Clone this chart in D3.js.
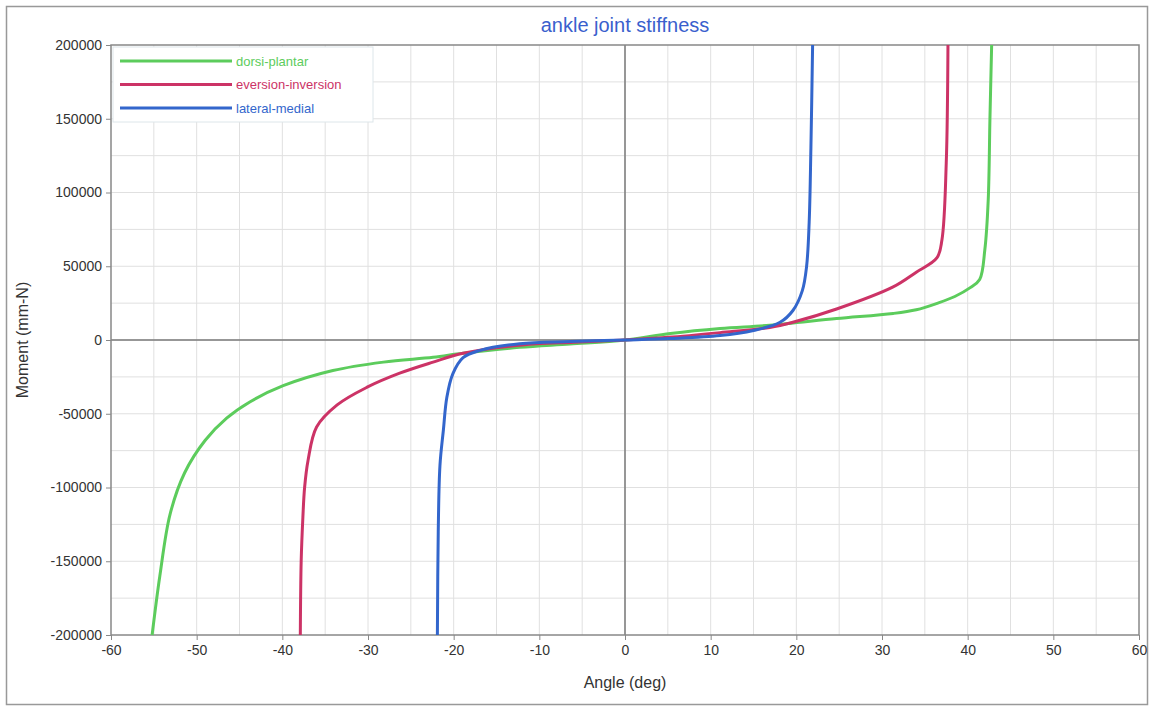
<!DOCTYPE html>
<html>
<head>
<meta charset="utf-8">
<script src="https://cdn.jsdelivr.net/npm/d3@7"></script>
<style>
  body { margin: 0; background: #fff; }
  svg { font-family: "Liberation Sans", Arial, sans-serif; }
</style>
</head>
<body>
<script>
// angle (deg) / moment (mm-N)
var dorsiAngle  = [ -55.2, -54.3, -53.1, -51.4, -49, -46.5, -43.8, -39.9, -34.1, -28.2, -22.4, -18.9, -12.3, -6.4, 0, 5.3, 11.1, 16.9, 24.7, 31.3, 34, 36.5, 38.5, 40.3, 41.4, 42, 42.4, 42.6, 42.8 ];
var dorsiMoment = [ -200000, -160000, -118000, -90000, -68000, -53000, -42000, -31000, -20700, -15000, -11700, -9000, -5000, -2700, 0, 4400, 7800, 10000, 14500, 18000, 20500, 25000, 29500, 35500, 41000, 61000, 95000, 150000, 200000 ];

var everAngle  = [ -37.9, -37.8, -37.6, -37.4, -37.0, -36, -33.6, -30.1, -26.3, -22.4, -18.9, -12.3, -6, 0, 5, 11.1, 16.9, 19.6, 24.7, 31.3, 34, 36.4, 37, 37.5, 37.7 ];
var everMoment = [ -200000, -150000, -120000, -100000, -81700, -59000, -44000, -32000, -22500, -15000, -9000, -3500, -1500, 0, 1800, 5000, 8500, 12000, 21000, 36000, 46000, 55600, 68000, 120000, 200000 ];

var latAngle  = [ -21.9, -21.8, -21.6, -21.2, -20.8, -20.1, -18.9, -16.9, -12.3, -6.4, 0, 5.3, 11.1, 15, 18.1, 19.6, 20.7, 21.2, 21.5, 21.7, 21.9 ];
var latMoment = [ -200000, -130000, -85000, -61000, -39000, -23000, -12000, -7000, -2500, -1000, 0, 1000, 3000, 6500, 12000, 20000, 33500, 50000, 80000, 130000, 200000 ];

var seriesNames  = [ 'dorsi-plantar', 'eversion-inversion', 'lateral-medial' ];
var seriesColors = [ '#5ccc5c', '#cc3366', '#3366cc' ];

var xTicks = d3.range( -60, 61, 10 );
var yTicks = d3.range( -200000, 200001, 50000 );

var W = 1153, H = 706;
var pLeft = 111, pRight = 1139, pTop = 45, pBottom = 635;

var svg = d3.select( 'body' ).append( 'svg' )
  .attr( 'width', W )
  .attr( 'height', H );

// outer frame
svg.append( 'rect' )
  .attr( 'x', 6.5 ).attr( 'y', 6.5 )
  .attr( 'width', 1141 ).attr( 'height', 698 )
  .attr( 'fill', 'none' ).attr( 'stroke', '#999' ).attr( 'stroke-width', 1.5 );

var x = d3.scaleLinear().domain( [ -60, 60 ] ).range( [ pLeft, pRight ] );
var y = d3.scaleLinear().domain( [ -200000, 200000 ] ).range( [ pBottom, pTop ] );

// grid, every 5 deg and every 25000
svg.selectAll( 'line.vgrid' )
  .data( d3.range( -55, 60, 5 ) )
  .enter().append( 'line' )
  .attr( 'class', 'vgrid' )
  .attr( 'x1', function ( d ) { return x( d ); } )
  .attr( 'x2', function ( d ) { return x( d ); } )
  .attr( 'y1', pTop ).attr( 'y2', pBottom )
  .attr( 'stroke', '#e0e0e0' ).attr( 'stroke-width', 1 );

svg.selectAll( 'line.hgrid' )
  .data( d3.range( -175000, 200000, 25000 ) )
  .enter().append( 'line' )
  .attr( 'class', 'hgrid' )
  .attr( 'y1', function ( d ) { return y( d ); } )
  .attr( 'y2', function ( d ) { return y( d ); } )
  .attr( 'x1', pLeft ).attr( 'x2', pRight )
  .attr( 'stroke', '#e0e0e0' ).attr( 'stroke-width', 1 );

// zero lines
svg.append( 'line' )
  .attr( 'x1', x( 0 ) ).attr( 'x2', x( 0 ) )
  .attr( 'y1', pTop ).attr( 'y2', pBottom )
  .attr( 'stroke', '#7a7a7a' ).attr( 'stroke-width', 1.5 );
svg.append( 'line' )
  .attr( 'x1', pLeft ).attr( 'x2', pRight )
  .attr( 'y1', y( 0 ) ).attr( 'y2', y( 0 ) )
  .attr( 'stroke', '#7a7a7a' ).attr( 'stroke-width', 1.5 );

// plot border
svg.append( 'rect' )
  .attr( 'x', pLeft ).attr( 'y', pTop )
  .attr( 'width', pRight - pLeft ).attr( 'height', pBottom - pTop )
  .attr( 'fill', 'none' ).attr( 'stroke', '#888' ).attr( 'stroke-width', 1.5 );

// axes (plain hyphen minus like the original)
var fmt = function ( d ) { return String( d ); };
var xAxis = svg.append( 'g' )
  .attr( 'transform', 'translate(0,' + pBottom + ')' )
  .call( d3.axisBottom( x ).tickValues( xTicks ).tickSize( 5 ).tickPadding( 5 ).tickFormat( fmt ) );
var yAxis = svg.append( 'g' )
  .attr( 'transform', 'translate(' + pLeft + ',0)' )
  .call( d3.axisLeft( y ).tickValues( yTicks ).tickSize( 5 ).tickPadding( 4 ).tickFormat( fmt ) );

[ xAxis, yAxis ].forEach( function ( g ) {
  g.select( '.domain' ).remove();
  g.selectAll( 'line' ).attr( 'stroke', '#888' );
  g.selectAll( 'text' ).attr( 'fill', '#333' ).attr( 'font-size', 14 )
    .attr( 'font-family', '"Liberation Sans", Arial, sans-serif' );
} );

// curves
var allData = [
  d3.zip( dorsiAngle, dorsiMoment ),
  d3.zip( everAngle, everMoment ),
  d3.zip( latAngle, latMoment )
];

var line = d3.line()
  .x( function ( d ) { return x( d[ 0 ] ); } )
  .y( function ( d ) { return y( d[ 1 ] ); } )
  .curve( d3.curveCatmullRom.alpha( 0.5 ) );

svg.selectAll( 'path.series' )
  .data( allData )
  .enter().append( 'path' )
  .attr( 'class', 'series' )
  .attr( 'd', line )
  .attr( 'fill', 'none' )
  .attr( 'stroke', function ( d, i ) { return seriesColors[ i ]; } )
  .attr( 'stroke-width', 3 )
  .attr( 'stroke-linejoin', 'round' );

// legend
var legend = svg.append( 'g' );
legend.append( 'rect' )
  .attr( 'x', 113 ).attr( 'y', 47 )
  .attr( 'width', 260 ).attr( 'height', 75 )
  .attr( 'fill', '#fff' ).attr( 'stroke', '#dde6ea' );

legend.selectAll( 'line' )
  .data( seriesNames )
  .enter().append( 'line' )
  .attr( 'x1', 120 ).attr( 'x2', 232 )
  .attr( 'y1', function ( d, i ) { return 61 + i * 23.5; } )
  .attr( 'y2', function ( d, i ) { return 61 + i * 23.5; } )
  .attr( 'stroke', function ( d, i ) { return seriesColors[ i ]; } )
  .attr( 'stroke-width', 3 );

legend.selectAll( 'text' )
  .data( seriesNames )
  .enter().append( 'text' )
  .attr( 'x', 236 )
  .attr( 'y', function ( d, i ) { return 61 + i * 23.5; } )
  .attr( 'dy', '0.35em' )
  .attr( 'font-size', 13 )
  .attr( 'fill', function ( d, i ) { return seriesColors[ i ]; } )
  .text( function ( d ) { return d; } );

// titles
svg.append( 'text' )
  .attr( 'x', x( 0 ) ).attr( 'y', 32 )
  .attr( 'text-anchor', 'middle' )
  .attr( 'font-size', 20 )
  .attr( 'fill', '#3a5fcd' )
  .text( 'ankle joint stiffness' );

svg.append( 'text' )
  .attr( 'x', x( 0 ) ).attr( 'y', 688 )
  .attr( 'text-anchor', 'middle' )
  .attr( 'font-size', 16 )
  .attr( 'fill', '#333' )
  .text( 'Angle (deg)' );

svg.append( 'text' )
  .attr( 'transform', 'translate(28,' + y( 0 ) + ') rotate(-90)' )
  .attr( 'text-anchor', 'middle' )
  .attr( 'font-size', 16 )
  .attr( 'fill', '#333' )
  .text( 'Moment (mm-N)' );
</script>
</body>
</html>
